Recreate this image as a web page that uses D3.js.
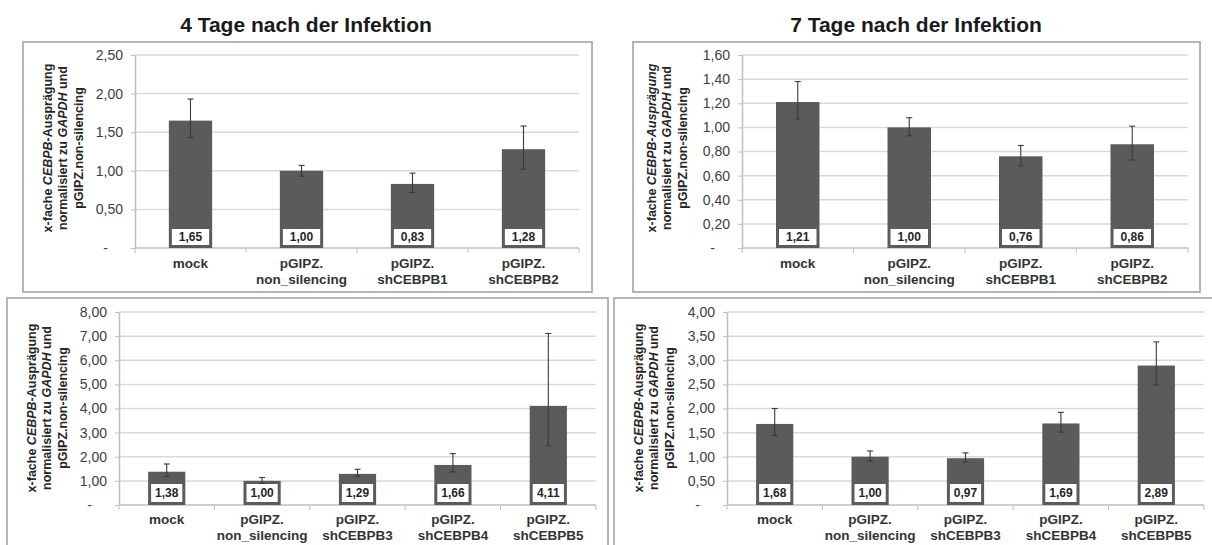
<!DOCTYPE html>
<html>
<head>
<meta charset="utf-8">
<script src="https://cdn.jsdelivr.net/npm/d3@7/dist/d3.min.js"></script>
<style>
  body { margin: 0; background: #fff; }
  svg { display: block; font-family: Arial, "Liberation Sans", sans-serif; }
</style>
</head>
<body>
<div id="chart"></div>
<script>
// ---- data ----
var titles = ["4 Tage nach der Infektion", "7 Tage nach der Infektion"];

var catsTop = [["mock"], ["pGIPZ.", "non_silencing"], ["pGIPZ.", "shCEBPB1"], ["pGIPZ.", "shCEBPB2"]];
var catsBottom = [["mock"], ["pGIPZ.", "non_silencing"], ["pGIPZ.", "shCEBPB3"], ["pGIPZ.", "shCEBPB4"], ["pGIPZ.", "shCEBPB5"]];

var values4dTop = [1.65, 1.00, 0.83, 1.28];
var errUp4dTop = [0.28, 0.07, 0.14, 0.30];
var errDn4dTop = [0.22, 0.07, 0.11, 0.26];

var values7dTop = [1.21, 1.00, 0.76, 0.86];
var errUp7dTop = [0.17, 0.08, 0.09, 0.15];
var errDn7dTop = [0.14, 0.07, 0.08, 0.13];

var values4dBottom = [1.38, 1.00, 1.29, 1.66, 4.11];
var errUp4dBottom = [0.32, 0.14, 0.19, 0.47, 3.00];
var errDn4dBottom = [0.20, 0.10, 0.10, 0.29, 1.66];

var values7dBottom = [1.68, 1.00, 0.97, 1.69, 2.89];
var errUp7dBottom = [0.32, 0.12, 0.11, 0.23, 0.49];
var errDn7dBottom = [0.24, 0.09, 0.08, 0.18, 0.40];

var ticks4dTop = [0, 0.5, 1, 1.5, 2, 2.5];
var ticks7dTop = [0, 0.2, 0.4, 0.6, 0.8, 1.0, 1.2, 1.4, 1.6];
var ticks4dBottom = [0, 1, 2, 3, 4, 5, 6, 7, 8];
var ticks7dBottom = [0, 0.5, 1, 1.5, 2, 2.5, 3, 3.5, 4];

// y axis title, italic parts flagged
var yTitleA = [
  [["x-fache ", 0], ["CEBPB", 1], ["-Ausprägung", 0]],
  [["normalisiert zu ", 0], ["GAPDH", 1], [" und", 0]],
  [["pGIPZ.non-silencing", 0]]
];
var yTitleB = [
  [["x-fache ", 0], ["CEBPB-Ausprägung", 1]],
  [["normalisiert zu ", 0], ["GAPDH", 1], [" und", 0]],
  [["pGIPZ.non-silencing", 0]]
];

var W = 1212, H = 545;
var barColor = "#5b5b5b";

var svg = d3.select("#chart").append("svg")
  .attr("width", W)
  .attr("height", H);

var fmt = function(d) {
  return d === 0 ? "-" : d3.format(".2f")(d).replace(".", ",");
};

// titles
svg.append("text").attr("x", 306).attr("y", 32).attr("text-anchor", "middle")
  .style("font-size", "21px").style("font-weight", "bold").attr("fill", "#1a1a1a")
  .text(titles[0]);
svg.append("text").attr("x", 916).attr("y", 32).attr("text-anchor", "middle")
  .style("font-size", "21px").style("font-weight", "bold").attr("fill", "#1a1a1a")
  .text(titles[1]);

var panels = [
  { box: [23, 42, 569, 250], x0: 135, x1: 579, yTop: 55, yBot: 248, max: 2.5,
    cats: catsTop, vals: values4dTop, up: errUp4dTop, dn: errDn4dTop, ticks: ticks4dTop,
    yt: yTitleA, ytx: 63, yty: 148, boxH: 16, catDy: 20 },
  { box: [633, 42, 567, 250], x0: 742, x1: 1188, yTop: 55, yBot: 248, max: 1.6,
    cats: catsTop, vals: values7dTop, up: errUp7dTop, dn: errDn7dTop, ticks: ticks7dTop,
    yt: yTitleB, ytx: 667, yty: 148, boxH: 16, catDy: 20 },
  { box: [7, 298, 601, 262], x0: 119, x1: 596, yTop: 312, yBot: 505, max: 8,
    cats: catsBottom, vals: values4dBottom, up: errUp4dBottom, dn: errDn4dBottom, ticks: ticks4dBottom,
    yt: yTitleA, ytx: 47, yty: 408, boxH: 18, catDy: 19 },
  { box: [614, 298, 610, 262], x0: 727, x1: 1204, yTop: 312, yBot: 505, max: 4,
    cats: catsBottom, vals: values7dBottom, up: errUp7dBottom, dn: errDn7dBottom, ticks: ticks7dBottom,
    yt: yTitleA, ytx: 654, yty: 408, boxH: 18, catDy: 19 }
];

panels.forEach(drawPanel);

function drawPanel(p) {
  var g = svg.append("g");
  var n = p.vals.length;

  g.append("rect")
    .attr("x", p.box[0]).attr("y", p.box[1])
    .attr("width", p.box[2]).attr("height", p.box[3])
    .attr("fill", "none").attr("stroke", "#a3a3a3").attr("stroke-width", 1.6);

  var x = d3.scaleBand().domain(d3.range(n)).range([p.x0, p.x1]).padding(0);
  var y = d3.scaleLinear().domain([0, p.max]).range([p.yBot, p.yTop]);

  // gridlines
  g.selectAll(".grid").data(p.ticks.filter(function(t) { return t > 0; }))
    .enter().append("line")
    .attr("x1", p.x0).attr("x2", p.x1)
    .attr("y1", function(d) { return y(d); })
    .attr("y2", function(d) { return y(d); })
    .attr("stroke", "#d9d9d9").attr("stroke-width", 1.5);

  // y axis
  var ya = g.append("g").attr("transform", "translate(" + p.x0 + ",0)")
    .call(d3.axisLeft(y).tickValues(p.ticks).tickSize(4).tickSizeOuter(0).tickPadding(8).tickFormat(fmt));
  ya.select(".domain").attr("stroke", "#bfbfbf").attr("stroke-width", 1.5);
  ya.selectAll(".tick line").attr("stroke", "#bfbfbf");
  ya.selectAll(".tick text")
    .attr("fill", "#404040")
    .style("font-size", "14px")
    .style("font-family", "Arial, 'Liberation Sans', sans-serif");
  ya.selectAll(".tick text").filter(function(d) { return d === 0; }).attr("x", -27);

  // x axis
  g.append("line")
    .attr("x1", p.x0).attr("x2", p.x1)
    .attr("y1", p.yBot).attr("y2", p.yBot)
    .attr("stroke", "#bfbfbf").attr("stroke-width", 1.5);
  g.selectAll(".xtick").data(d3.range(n + 1))
    .enter().append("line")
    .attr("x1", function(i) { return p.x0 + i * x.step(); })
    .attr("x2", function(i) { return p.x0 + i * x.step(); })
    .attr("y1", p.yBot).attr("y2", p.yBot + 5)
    .attr("stroke", "#bfbfbf").attr("stroke-width", 1);

  var bw = x.bandwidth() * 0.39;

  // bars
  g.selectAll(".bar").data(p.vals)
    .enter().append("rect")
    .attr("x", function(d, i) { return x(i) + (x.bandwidth() - bw) / 2; })
    .attr("y", function(d) { return y(d); })
    .attr("width", bw)
    .attr("height", function(d) { return p.yBot - y(d); })
    .attr("fill", barColor);

  // error bars
  var eb = g.selectAll(".err").data(p.vals).enter().append("g")
    .attr("stroke", "#3a3a3a").attr("stroke-width", 1.1);
  eb.append("line")
    .attr("x1", function(d, i) { return x(i) + x.bandwidth() / 2; })
    .attr("x2", function(d, i) { return x(i) + x.bandwidth() / 2; })
    .attr("y1", function(d, i) { return y(d + p.up[i]); })
    .attr("y2", function(d, i) { return y(d - p.dn[i]); });
  eb.append("line")
    .attr("x1", function(d, i) { return x(i) + x.bandwidth() / 2 - 3; })
    .attr("x2", function(d, i) { return x(i) + x.bandwidth() / 2 + 3; })
    .attr("y1", function(d, i) { return y(d + p.up[i]); })
    .attr("y2", function(d, i) { return y(d + p.up[i]); });
  eb.append("line")
    .attr("x1", function(d, i) { return x(i) + x.bandwidth() / 2 - 3; })
    .attr("x2", function(d, i) { return x(i) + x.bandwidth() / 2 + 3; })
    .attr("y1", function(d, i) { return y(d - p.dn[i]); })
    .attr("y2", function(d, i) { return y(d - p.dn[i]); });

  // value label boxes
  var lbw = bw - 6;
  g.selectAll(".lbox").data(p.vals)
    .enter().append("rect")
    .attr("x", function(d, i) { return x(i) + (x.bandwidth() - lbw) / 2; })
    .attr("y", p.yBot - 3 - p.boxH)
    .attr("width", lbw).attr("height", p.boxH)
    .attr("fill", "#fff");
  g.selectAll(".lbl").data(p.vals)
    .enter().append("text")
    .attr("x", function(d, i) { return x(i) + x.bandwidth() / 2; })
    .attr("y", p.yBot - 3 - p.boxH / 2 + 4)
    .attr("text-anchor", "middle")
    .style("font-size", "12px").style("font-weight", "bold")
    .attr("fill", "#262626")
    .text(function(d) { return d3.format(".2f")(d).replace(".", ","); });

  // category labels
  var ct = g.selectAll(".cat").data(p.cats)
    .enter().append("text")
    .attr("text-anchor", "middle")
    .style("font-size", "13.5px").style("font-weight", "bold")
    .attr("fill", "#333");
  ct.selectAll("tspan").data(function(d, i) {
      return d.map(function(s) { return { s: s, i: i }; });
    })
    .enter().append("tspan")
    .attr("x", function(d) { return x(d.i) + x.bandwidth() / 2; })
    .attr("y", function(d, j) { return p.yBot + p.catDy + j * 16; })
    .text(function(d) { return d.s; });

  // y axis title
  var yt = g.append("text")
    .attr("transform", "translate(" + p.ytx + "," + p.yty + ") rotate(-90)")
    .attr("text-anchor", "middle")
    .style("font-size", "12.5px").style("font-weight", "bold")
    .attr("fill", "#262626");
  p.yt.forEach(function(line, j) {
    line.forEach(function(part, k) {
      var ts = yt.append("tspan").text(part[0])
        .style("font-style", part[1] ? "italic" : "normal");
      if (k === 0) ts.attr("x", 0).attr("y", (j - 1) * 15.5 + 4);
    });
  });
}
</script>
</body>
</html>
